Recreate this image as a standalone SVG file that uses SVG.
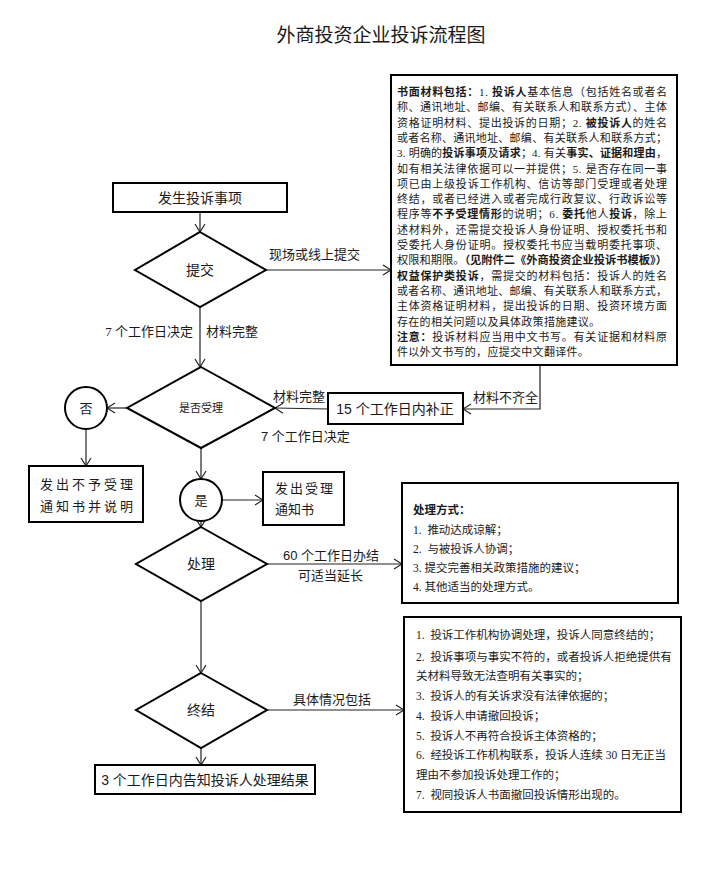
<svg xmlns="http://www.w3.org/2000/svg" width="710" height="889" viewBox="0 0 710 889">
<style>
text{font-family:"Liberation Serif","Noto Sans CJK SC",serif;fill:#1a1a1a}
.sans{font-family:"Liberation Sans","Noto Sans CJK SC",sans-serif}
.box{fill:#fff;stroke:#000;stroke-width:2}
.shape{fill:#fff;stroke:#000;stroke-width:2}
.c{fill:none;stroke:#222;stroke-width:1.2}
.lbl{font-size:13px}
.node{font-size:14px}
.p{font-size:11px}
.q{font-size:11.5px;white-space:pre}
.b{font-weight:bold}
</style>
<defs>
<marker id="arr" markerWidth="10" markerHeight="12" refX="9" refY="6" orient="auto" markerUnits="userSpaceOnUse">
<path d="M1,1 L9,6 L1,11" fill="none" stroke="#222" stroke-width="1.2"/>
</marker>
</defs>
<rect width="710" height="889" fill="#fff"/>
<text class="sans" x="381" y="42" font-size="19" text-anchor="middle">外商投资企业投诉流程图</text>

<g id="connectors">
<line class="c" x1="200" y1="212" x2="200" y2="232" marker-end="url(#arr)"/>
<line class="c" x1="266" y1="270" x2="391" y2="270" marker-end="url(#arr)"/>
<line class="c" x1="200" y1="307" x2="200" y2="367" marker-end="url(#arr)"/>
<line class="c" x1="127" y1="408" x2="107" y2="408" marker-end="url(#arr)"/>
<line class="c" x1="86" y1="429" x2="86" y2="466" marker-end="url(#arr)"/>
<polyline class="c" points="540,365 540,409 463,409" marker-end="url(#arr)"/>
<line class="c" x1="328" y1="409" x2="275" y2="408" marker-end="url(#arr)"/>
<line class="c" x1="201" y1="448" x2="201" y2="479" marker-end="url(#arr)"/>
<line class="c" x1="222" y1="500" x2="263" y2="500" marker-end="url(#arr)"/>
<line class="c" x1="201" y1="521" x2="201" y2="527" marker-end="url(#arr)"/>
<line class="c" x1="267" y1="564" x2="402" y2="564" marker-end="url(#arr)"/>
<line class="c" x1="201" y1="601" x2="201" y2="673" marker-end="url(#arr)"/>
<line class="c" x1="267" y1="710" x2="404" y2="710" marker-end="url(#arr)"/>
<line class="c" x1="201" y1="748" x2="201" y2="765" marker-end="url(#arr)"/>
<text class="lbl" x="269" y="259">现场或线上提交</text>
<text class="lbl" x="193" y="336" text-anchor="end">7 个工作日决定</text>
<text class="lbl" x="206" y="336">材料完整</text>
<text class="lbl" x="473" y="402">材料不齐全</text>
<text class="lbl" x="273" y="401">材料完整</text>
<text class="lbl sans" x="261" y="441">7 个工作日决定</text>
<text class="lbl sans" x="283" y="560">60 个工作日办结</text>
<text class="lbl sans" x="298" y="580">可适当延长</text>
<text class="lbl" x="293" y="704">具体情况包括</text>
</g>

<g id="n-start">
<rect class="box" x="113" y="183" width="174" height="29"/>
<text class="node" x="200" y="203" text-anchor="middle">发生投诉事项</text>
</g>

<g id="n-submit">
<polygon class="shape" points="200,232 266,270 200,307 135,270"/>
<text class="node" x="200" y="275" text-anchor="middle">提交</text>
</g>

<g id="n-materials">
<rect class="box" x="391" y="75" width="286" height="290"/>
<text class="p" x="397" y="96" textLength="270" lengthAdjust="spacing"><tspan class="b">书面材料包括：</tspan>1. <tspan class="b">投诉人</tspan>基本信息（包括姓名或者名</text>
<text class="p" x="397" y="111.3" textLength="270" lengthAdjust="spacing">称、通讯地址、邮编、有关联系人和联系方式）、主体</text>
<text class="p" x="397" y="126.6" textLength="270" lengthAdjust="spacing">资格证明材料、提出投诉的日期；2. <tspan class="b">被投诉人</tspan>的姓名</text>
<text class="p" x="397" y="141.9" textLength="270" lengthAdjust="spacing">或者名称、通讯地址、邮编、有关联系人和联系方式；</text>
<text class="p" x="397" y="157.2" textLength="270" lengthAdjust="spacing">3. 明确的<tspan class="b">投诉事项</tspan>及<tspan class="b">请求</tspan>；4. 有关<tspan class="b">事实、证据和理由</tspan>，</text>
<text class="p" x="397" y="172.5" textLength="270" lengthAdjust="spacing">如有相关法律依据可以一并提供；5. 是否存在同一事</text>
<text class="p" x="397" y="187.8" textLength="270" lengthAdjust="spacing">项已由上级投诉工作机构、信访等部门受理或者处理</text>
<text class="p" x="397" y="203.1" textLength="270" lengthAdjust="spacing">终结，或者已经进入或者完成行政复议、行政诉讼等</text>
<text class="p" x="397" y="218.4" textLength="270" lengthAdjust="spacing">程序等<tspan class="b">不予受理情形</tspan>的说明；6. <tspan class="b">委托</tspan>他人<tspan class="b">投诉</tspan>，除上</text>
<text class="p" x="397" y="233.7" textLength="270" lengthAdjust="spacing">述材料外，还需提交投诉人身份证明、授权委托书和</text>
<text class="p" x="397" y="249" textLength="270" lengthAdjust="spacing">受委托人身份证明。授权委托书应当载明委托事项、</text>
<text class="p" x="397" y="264.3" textLength="270" lengthAdjust="spacingAndGlyphs">权限和期限。<tspan class="b">（见附件二《外商投资企业投诉书模板》）</tspan></text>
<text class="p" x="397" y="279.6" textLength="270" lengthAdjust="spacing"><tspan class="b">权益保护类投诉</tspan>，需提交的材料包括：投诉人的姓名</text>
<text class="p" x="397" y="294.9" textLength="270" lengthAdjust="spacing">或者名称、通讯地址、邮编、有关联系人和联系方式，</text>
<text class="p" x="397" y="310.2" textLength="270" lengthAdjust="spacing">主体资格证明材料，提出投诉的日期、投资环境方面</text>
<text class="p" x="397" y="325.5" letter-spacing="0.3">存在的相关问题以及具体政策措施建议。</text>
<text class="p" x="397" y="340.8" textLength="270" lengthAdjust="spacing"><tspan class="b">注意：</tspan>投诉材料应当用中文书写。有关证据和材料原</text>
<text class="p" x="397" y="356.1" letter-spacing="0.3">件以外文书写的，应提交中文翻译件。</text>
</g>

<g id="n-accept">
<polygon class="shape" points="201,367 275,408 201,448 127,408"/>
<text x="201" y="412" font-size="11" text-anchor="middle">是否受理</text>
</g>

<g id="n-no">
<circle class="shape" cx="86" cy="408" r="21"/>
<text x="86" y="413" font-size="13" text-anchor="middle">否</text>
</g>

<g id="n-reject">
<rect class="box" x="29" y="466" width="114" height="56"/>
<text x="88" y="489" font-size="13" letter-spacing="3" text-anchor="middle">发出不予受理</text>
<text x="88" y="511" font-size="13" letter-spacing="3" text-anchor="middle">通知书并说明</text>
</g>

<g id="n-supplement">
<rect class="box" x="328" y="393" width="135" height="31"/>
<text class="node sans" x="395" y="414" text-anchor="middle">15 个工作日内补正</text>
</g>

<g id="n-yes">
<circle class="shape" cx="201" cy="500" r="21"/>
<text x="201" y="505" font-size="13" text-anchor="middle">是</text>
</g>

<g id="n-notice">
<rect class="box" x="263" y="472" width="81" height="53"/>
<text x="275" y="493" font-size="13" letter-spacing="2">发出受理</text>
<text x="275" y="514" font-size="13">通知书</text>
</g>

<g id="n-handle">
<polygon class="shape" points="201,527 267,564 201,601 136,564"/>
<text class="node" x="201" y="569" text-anchor="middle">处理</text>
</g>

<g id="n-methods">
<rect class="box" x="402" y="483" width="276" height="120"/>
<text class="q b" x="413" y="514">处理方式：</text>
<text class="q" x="413" y="534">1.  推动达成谅解；</text>
<text class="q" x="413" y="553">2.  与被投诉人协调；</text>
<text class="q" x="413" y="572">3. 提交完善相关政策措施的建议；</text>
<text class="q" x="413" y="591">4. 其他适当的处理方式。</text>
</g>

<g id="n-end">
<polygon class="shape" points="201,673 267,710 201,748 136,710"/>
<text class="node" x="201" y="715" text-anchor="middle">终结</text>
</g>

<g id="n-cases">
<rect class="box" x="404" y="617" width="277" height="195"/>
<text class="q" x="416" y="639">1.  投诉工作机构协调处理，投诉人同意终结的；</text>
<text class="q" x="416" y="661">2.  投诉事项与事实不符的，或者投诉人拒绝提供有</text>
<text class="q" x="416" y="680">关材料导致无法查明有关事实的；</text>
<text class="q" x="416" y="700">3.  投诉人的有关诉求没有法律依据的；</text>
<text class="q" x="416" y="720">4.  投诉人申请撤回投诉；</text>
<text class="q" x="416" y="740">5.  投诉人不再符合投诉主体资格的；</text>
<text class="q" x="416" y="759">6.  经投诉工作机构联系，投诉人连续 30 日无正当</text>
<text class="q" x="416" y="779">理由不参加投诉处理工作的；</text>
<text class="q" x="416" y="799">7.  视同投诉人书面撤回投诉情形出现的。</text>
</g>

<g id="n-result">
<rect class="box" x="95" y="765" width="220" height="29"/>
<text class="node sans" x="205" y="785" text-anchor="middle">3 个工作日内告知投诉人处理结果</text>
</g>
</svg>
